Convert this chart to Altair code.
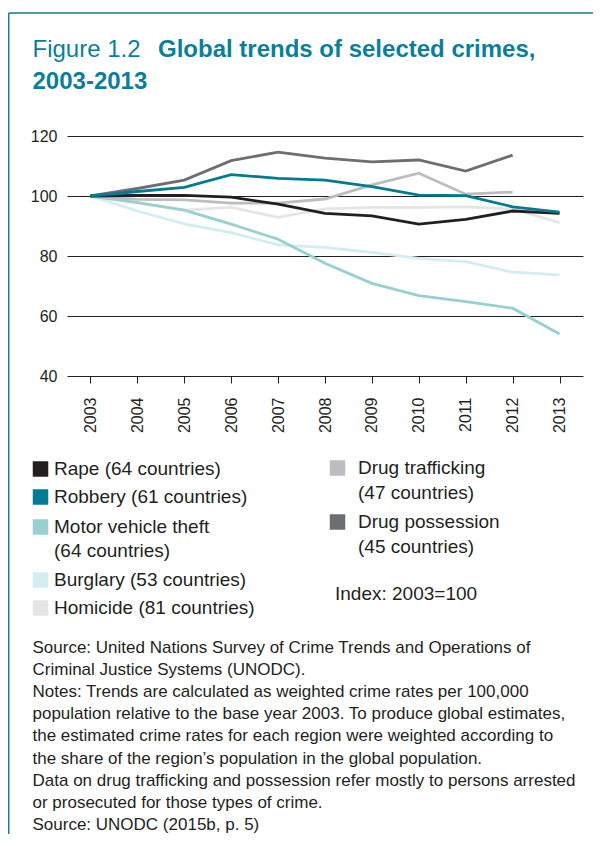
import altair as alt
import pandas as pd

# ---------------- data ----------------
years = list(range(2003, 2014))
rape = [100, 100.2, 100.2, 99.6, 97.3, 94.2, 93.4, 90.6, 92.2, 95.0, 94.2]
robbery = [100, 101.5, 102.9, 107.1, 105.9, 105.3, 103.1, 100.3, 100.1, 96.4, 94.6]
motor_vehicle_theft = [100, 97.8, 95.3, 90.6, 85.6, 77.6, 70.9, 66.8, 64.8, 62.6, 54.0]
burglary = [100, 95.0, 90.7, 87.8, 83.7, 82.9, 81.2, 79.2, 78.1, 74.6, 73.7]
homicide = [100, 97.8, 95.3, 96.2, 92.9, 95.7, 96.2, 96.2, 96.4, 95.7, 91.1]
drug_trafficking = [100, 98.9, 98.7, 97.6, 97.6, 99.0, 103.7, 107.6, 100.6, 101.3, None]
drug_possession = [100, 102.5, 105.3, 111.8, 114.6, 112.6, 111.4, 112.0, 108.3, 113.6, None]

series_keys = ["Rape", "Robbery", "Motor vehicle theft", "Burglary", "Homicide",
               "Drug trafficking", "Drug possession"]
series_values = [rape, robbery, motor_vehicle_theft, burglary, homicide,
                 drug_trafficking, drug_possession]
series_colors = ["#231f20", "#007b91", "#98cfd1", "#d3edf1", "#e4e5e6", "#bcbdc0", "#6d6e71"]
draw_order = ["Burglary", "Homicide", "Motor vehicle theft", "Drug trafficking",
              "Drug possession", "Rape", "Robbery"]

y_ticks = [40, 60, 80, 100, 120]

title_regular = "Figure 1.2"
title_bold_1 = "Global trends of selected crimes,"
title_bold_2 = "2003-2013"

legend_left = [["Rape (64 countries)"], ["Robbery (61 countries)"],
               ["Motor vehicle theft", "(64 countries)"], ["Burglary (53 countries)"],
               ["Homicide (81 countries)"]]
legend_right = [["Drug trafficking", "(47 countries)"], ["Drug possession", "(45 countries)"]]
index_note = "Index: 2003=100"

notes = [
    "Source: United Nations Survey of Crime Trends and Operations of",
    "Criminal Justice Systems (UNODC).",
    "Notes: Trends are calculated as weighted crime rates per 100,000",
    "population relative to the base year 2003. To produce global estimates,",
    "the estimated crime rates for each region were weighted according to",
    "the share of the region\u2019s population in the global population.",
    "Data on drug trafficking and possession refer mostly to persons arrested",
    "or prosecuted for those types of crime.",
    "Source: UNODC (2015b, p. 5)",
]

# ---------------- styling / layout ----------------
FONT = "Liberation Sans"
TEXT = "#231f20"
TEAL = "#0b7f99"
W, H = 516, 240

rows = []
for key, vals in zip(series_keys, series_values):
    for yr, v in zip(years, vals):
        if v is not None:
            rows.append({"series": key, "year": yr, "value": v})
df = pd.DataFrame(rows)
color_of = dict(zip(series_keys, series_colors))

x_enc = alt.X("year:Q",
              scale=alt.Scale(domain=[2002.5, 2013.5], nice=False, zero=False),
              axis=alt.Axis(values=years, format="d", labelAngle=270, tickSize=7,
                            tickColor=TEXT, tickWidth=1, domain=False, grid=False,
                            labelPadding=14, title=None, labelFont=FONT,
                            labelFontSize=16, labelColor=TEXT))
y_enc = alt.Y("value:Q",
              scale=alt.Scale(domain=[40, 120], nice=False, zero=False),
              axis=alt.Axis(values=y_ticks, grid=True, gridColor=TEXT, gridWidth=1,
                            ticks=False, domain=False, labelPadding=10, title=None,
                            labelFont=FONT, labelFontSize=16, labelColor=TEXT))

layers = []
for key in draw_order:
    layers.append(
        alt.Chart(df).transform_filter(alt.datum.series == key)
        .mark_line(strokeWidth=2.8, color=color_of[key])
        .encode(x=x_enc, y=y_enc)
    )

# legend table (layout computed here)
leg_rows, sq_rows = [], []
left_sq_y = [333, 361, 391, 444, 472]
for i, lines in enumerate(legend_left):
    key = series_keys[i]
    sq_rows.append({"px": -26.5, "py": left_sq_y[i], "c": color_of[key]})
    for j, t in enumerate(lines):
        leg_rows.append({"px": -13, "py": left_sq_y[i] + 24 * j, "label": t})
right_sq_y = [332, 386]
for i, lines in enumerate(legend_right):
    key = series_keys[5 + i]
    sq_rows.append({"px": 270.5, "py": right_sq_y[i], "c": color_of[key]})
    for j, t in enumerate(lines):
        leg_rows.append({"px": 291, "py": right_sq_y[i] + 24.5 * j, "label": t})
leg_rows.append({"px": 268, "py": 458, "label": index_note})
leg_df = pd.DataFrame(leg_rows)
sq_df = pd.DataFrame(sq_rows)

note_df = pd.DataFrame({"label": notes,
                        "px": [-34.5] * len(notes),
                        "py": [512 + 22.1 * i for i in range(len(notes))]})

title_df = pd.DataFrame({"label": [title_regular, title_bold_1, title_bold_2],
                         "px": [-34.5, 91, -34.5],
                         "py": [-79, -79, -47],
                         "w": ["normal", "bold", "bold"]})

px = alt.X("px:Q", scale=None, axis=None)
py = alt.Y("py:Q", scale=None, axis=None)

squares = alt.Chart(sq_df).mark_square(size=240, opacity=1, filled=True).encode(
    x=px, y=py, color=alt.Color("c:N", scale=None))
legend_text = alt.Chart(leg_df).mark_text(
    align="left", baseline="middle", font=FONT, fontSize=19, color=TEXT
).encode(x=px, y=py, text="label:N")
note_text = alt.Chart(note_df).mark_text(
    align="left", baseline="middle", font=FONT, fontSize=17, color=TEXT
).encode(x=px, y=py, text="label:N")
title_reg = alt.Chart(title_df[title_df.w == "normal"]).mark_text(
    align="left", baseline="alphabetic", font=FONT, fontSize=24, color=TEAL
).encode(x=px, y=py, text="label:N")
title_b = alt.Chart(title_df[title_df.w == "bold"]).mark_text(
    align="left", baseline="alphabetic", font=FONT, fontSize=24, fontWeight="bold", color=TEAL
).encode(x=px, y=py, text="label:N")

one = pd.DataFrame({"a": [0]})
frame_left = alt.Chart(one).mark_rule(color=TEAL, strokeWidth=1.5).encode(
    x=alt.value(-58.3), y=alt.value(-123), y2=alt.value(720))
frame_top = alt.Chart(one).mark_rule(color=TEAL, strokeWidth=1.5).encode(
    x=alt.value(-58.3), x2=alt.value(530), y=alt.value(-123))

chart = alt.layer(
    *layers, squares, legend_text, note_text, title_reg, title_b, frame_left, frame_top
).properties(
    width=W, height=H, autosize="none",
    padding={"left": 59, "top": 128, "right": 10, "bottom": 458},
    background="white",
).configure_view(stroke=None)

chart.save("out.html", embed_options={"renderer": "svg", "actions": False})
